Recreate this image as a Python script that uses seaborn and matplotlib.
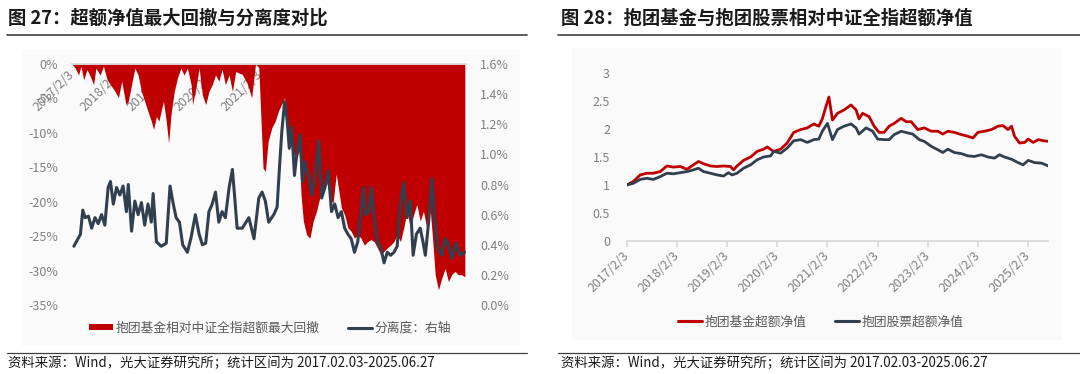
import numpy as np
import pandas as pd
import matplotlib
matplotlib.use('Agg')
import matplotlib.pyplot as plt
import seaborn as sns
from matplotlib.lines import Line2D
from matplotlib.patches import Patch, Rectangle

sns.set_theme(style='white')
plt.rcParams['font.family'] = ['Noto Sans CJK SC', 'DejaVu Sans']
plt.rcParams['axes.unicode_minus'] = False

RED = '#C00000'
NAVY = '#323F4F'
TICK = '#808080'
LEG = '#595959'

# ---------------- data (time in decimal years) ----------------
# 图27 超额最大回撤 (%)
dd_t = [2017.09, 2017.16, 2017.23, 2017.28, 2017.34, 2017.41, 2017.48, 2017.55, 2017.60, 2017.69,
        2017.76, 2017.84, 2017.91, 2018.01, 2018.08, 2018.15, 2018.24, 2018.29, 2018.36, 2018.43,
        2018.50, 2018.57, 2018.64, 2018.71, 2018.78, 2018.83, 2018.89, 2018.94, 2018.99, 2019.04,
        2019.10, 2019.15, 2019.20, 2019.27, 2019.34, 2019.41, 2019.48, 2019.55, 2019.63, 2019.66,
        2019.73, 2019.80, 2019.87, 2019.94, 2020.01, 2020.08, 2020.15, 2020.22, 2020.29, 2020.36,
        2020.44, 2020.51, 2020.58, 2020.72, 2020.83, 2020.92, 2021.00, 2021.07, 2021.16, 2021.21,
        2021.27, 2021.35, 2021.42, 2021.49, 2021.56, 2021.62, 2021.67, 2021.74, 2021.81, 2021.88,
        2021.93, 2021.97, 2022.02, 2022.09, 2022.16, 2022.23, 2022.30, 2022.37, 2022.44, 2022.51,
        2022.58, 2022.65, 2022.72, 2022.79, 2022.83, 2022.90, 2022.97, 2023.04, 2023.11, 2023.18,
        2023.25, 2023.32, 2023.39, 2023.46, 2023.53, 2023.60, 2023.67, 2023.74, 2023.81, 2023.88,
        2023.95, 2024.02, 2024.09, 2024.16, 2024.23, 2024.30, 2024.37, 2024.44, 2024.51, 2024.58,
        2024.65, 2024.72, 2024.78, 2024.83, 2024.90, 2024.97, 2025.04, 2025.11, 2025.18, 2025.25,
        2025.32, 2025.39, 2025.46]
dd_val = [0.0, -0.6, -1.6, -0.3, -2.3, -0.8, -1.8, -3.0, -0.6, -1.6,
          -0.3, -2.3, -3.0, -4.0, -4.9, -2.5, -5.9, -5.4, -3.0, -0.6,
          -1.6, -4.0, -5.4, -6.9, -8.3, -9.5, -7.6, -8.3, -6.9, -5.4,
          -8.3, -11.5, -7.4, -4.0, -2.0, -0.6, -1.6, -0.6, -3.0, -5.9,
          -3.5, -0.6, -4.5, -5.9, -4.0, -3.0, -1.6, -2.5, -0.8, -3.0,
          -1.6, -4.0, -1.1, -1.5, -2.9, -4.9, 0.0, -0.5, -15.1, -15.6,
          -11.2, -9.2, -8.3, -6.8, -5.8, -4.9, -9.7, -10.7, -13.1, -13.6,
          -12.6, -19.0, -22.8, -24.8, -25.3, -22.8, -21.4, -19.4, -18.0, -17.0,
          -19.0, -20.4, -16.0, -19.0, -20.9, -21.9, -23.8, -24.3, -25.3, -24.8,
          -25.3, -26.3, -25.8, -25.5, -25.8, -26.7, -27.7, -27.2, -26.7, -26.3,
          -25.8, -24.8, -25.8, -23.8, -21.4, -23.8, -21.9, -20.4, -22.8, -21.4,
          -23.8, -20.9, -25.8, -30.6, -32.8, -31.1, -29.7, -31.6, -30.6, -30.1,
          -30.6, -30.6, -30.9]

# 图27 分离度 (%, 右轴)
sep_t = [2017.13, 2017.20, 2017.27, 2017.32, 2017.37, 2017.44, 2017.51, 2017.58, 2017.65, 2017.72,
         2017.79, 2017.86, 2017.91, 2017.97, 2018.04, 2018.11, 2018.18, 2018.25, 2018.29, 2018.36,
         2018.43, 2018.50, 2018.57, 2018.64, 2018.71, 2018.78, 2018.82, 2018.89, 2018.99, 2019.10,
         2019.18, 2019.25, 2019.31, 2019.38, 2019.45, 2019.55, 2019.63, 2019.72, 2019.80, 2019.87,
         2019.94, 2020.01, 2020.08, 2020.15, 2020.22, 2020.29, 2020.36, 2020.44, 2020.51, 2020.56,
         2020.61, 2020.72, 2020.86, 2020.97, 2021.07, 2021.14, 2021.21, 2021.28, 2021.39, 2021.46,
         2021.51, 2021.56, 2021.62, 2021.67, 2021.72, 2021.77, 2021.83, 2021.88, 2021.95, 2022.00,
         2022.05, 2022.13, 2022.20, 2022.27, 2022.35, 2022.41, 2022.48, 2022.55, 2022.62, 2022.69,
         2022.76, 2022.83, 2022.90, 2022.97, 2023.04, 2023.11, 2023.18, 2023.25, 2023.30, 2023.35,
         2023.42, 2023.47, 2023.53, 2023.60, 2023.67, 2023.74, 2023.81, 2023.88, 2023.95, 2024.02,
         2024.09, 2024.16, 2024.23, 2024.30, 2024.36, 2024.43, 2024.51, 2024.57, 2024.62, 2024.69,
         2024.76, 2024.81, 2024.88, 2024.97, 2025.04, 2025.11, 2025.18, 2025.27, 2025.35, 2025.46]
sep_val = [0.39, 0.43, 0.47, 0.63, 0.58, 0.59, 0.51, 0.58, 0.54, 0.60,
           0.53, 0.78, 0.82, 0.67, 0.78, 0.73, 0.79, 0.62, 0.80, 0.49,
           0.69, 0.60, 0.68, 0.53, 0.67, 0.55, 0.74, 0.42, 0.39, 0.41,
           0.79, 0.67, 0.58, 0.55, 0.40, 0.35, 0.45, 0.60, 0.47, 0.40,
           0.41, 0.62, 0.67, 0.75, 0.55, 0.62, 0.58, 0.78, 0.90, 0.71,
           0.51, 0.51, 0.58, 0.44, 0.71, 0.75, 0.69, 0.55, 0.60, 0.65,
           0.91, 1.15, 1.35, 1.24, 1.04, 1.18, 0.86, 1.00, 1.13, 0.82,
           0.95, 0.86, 0.73, 0.86, 1.09, 0.71, 0.78, 0.89, 0.62, 0.67,
           0.58, 0.62, 0.51, 0.47, 0.44, 0.35, 0.42, 0.62, 0.78, 0.60,
           0.62, 0.78, 0.58, 0.42, 0.38, 0.28, 0.35, 0.33, 0.35, 0.39,
           0.67, 0.81, 0.58, 0.69, 0.33, 0.47, 0.51, 0.42, 0.33, 0.55,
           0.84, 0.62, 0.38, 0.33, 0.44, 0.40, 0.31, 0.41, 0.33, 0.35]

# 图28 抱团基金超额净值
fund_t = [2017.09, 2017.22, 2017.36, 2017.49, 2017.62, 2017.76, 2017.89, 2018.02, 2018.16, 2018.29,
          2018.42, 2018.52, 2018.62, 2018.76, 2018.89, 2019.02, 2019.16, 2019.22, 2019.29, 2019.42,
          2019.56, 2019.69, 2019.82, 2019.89, 2020.02, 2020.16, 2020.29, 2020.42, 2020.56, 2020.69,
          2020.82, 2020.92, 2020.99, 2021.06, 2021.12, 2021.19, 2021.29, 2021.42, 2021.56, 2021.66,
          2021.72, 2021.79, 2021.92, 2022.02, 2022.12, 2022.22, 2022.32, 2022.42, 2022.56, 2022.66,
          2022.76, 2022.89, 2023.02, 2023.16, 2023.29, 2023.39, 2023.49, 2023.62, 2023.76, 2023.89,
          2023.99, 2024.09, 2024.22, 2024.36, 2024.49, 2024.59, 2024.69, 2024.76, 2024.82, 2024.92,
          2025.02, 2025.09, 2025.19, 2025.29, 2025.39, 2025.49]
fund_nav = [1.00, 1.06, 1.18, 1.21, 1.21, 1.24, 1.34, 1.32, 1.33, 1.28,
            1.36, 1.42, 1.38, 1.34, 1.33, 1.34, 1.33, 1.27, 1.34, 1.44,
            1.50, 1.60, 1.64, 1.68, 1.60, 1.64, 1.75, 1.94, 1.99, 2.02,
            2.09, 2.05, 2.18, 2.40, 2.57, 2.16, 2.28, 2.34, 2.43, 2.34,
            2.18, 2.28, 2.22, 2.05, 1.94, 1.94, 2.05, 2.10, 2.19, 2.13,
            2.13, 1.99, 2.02, 1.96, 1.96, 1.91, 1.96, 1.94, 1.90, 1.87,
            1.84, 1.94, 1.96, 1.99, 2.05, 2.06, 1.99, 2.05, 1.87, 1.75,
            1.76, 1.82, 1.76, 1.81, 1.79, 1.78]

# 图28 抱团股票超额净值
stock_t = [2017.09, 2017.22, 2017.36, 2017.49, 2017.62, 2017.76, 2017.89, 2018.02, 2018.16, 2018.29,
           2018.42, 2018.52, 2018.62, 2018.76, 2018.89, 2019.02, 2019.12, 2019.19, 2019.29, 2019.42,
           2019.56, 2019.69, 2019.82, 2019.96, 2020.02, 2020.16, 2020.29, 2020.42, 2020.56, 2020.69,
           2020.82, 2020.92, 2020.99, 2021.09, 2021.19, 2021.29, 2021.42, 2021.56, 2021.66, 2021.72,
           2021.86, 2021.99, 2022.09, 2022.22, 2022.32, 2022.42, 2022.56, 2022.69, 2022.79, 2022.92,
           2023.02, 2023.16, 2023.29, 2023.39, 2023.49, 2023.62, 2023.76, 2023.89, 2024.02, 2024.16,
           2024.29, 2024.42, 2024.52, 2024.62, 2024.76, 2024.89, 2024.99, 2025.09, 2025.22, 2025.36,
           2025.49]
stock_nav = [1.00, 1.03, 1.10, 1.12, 1.10, 1.15, 1.21, 1.20, 1.22, 1.24,
             1.27, 1.30, 1.24, 1.21, 1.18, 1.16, 1.22, 1.18, 1.21, 1.30,
             1.36, 1.45, 1.50, 1.52, 1.60, 1.57, 1.66, 1.79, 1.81, 1.76,
             1.81, 1.82, 1.96, 2.10, 1.81, 1.99, 2.05, 2.09, 2.02, 1.91,
             2.02, 1.96, 1.82, 1.81, 1.81, 1.90, 1.96, 1.93, 1.91, 1.81,
             1.78, 1.69, 1.63, 1.58, 1.64, 1.58, 1.56, 1.52, 1.51, 1.54,
             1.50, 1.48, 1.54, 1.50, 1.46, 1.40, 1.36, 1.44, 1.40, 1.39,
             1.34]

tick_years = [2017, 2018, 2019, 2020, 2021, 2022, 2023, 2024, 2025]
tick_labels = [f'{y}/2/3' for y in tick_years]
left_yticks = [0, -5, -10, -15, -20, -25, -30, -35]
right_yticks = [0.0, 0.2, 0.4, 0.6, 0.8, 1.0, 1.2, 1.4, 1.6]
nav_yticks = [0, 0.5, 1, 1.5, 2, 2.5, 3]


def to_dates(yrs):
    yrs = np.asarray(yrs, dtype=float)
    base = pd.to_datetime(np.floor(yrs).astype(int).astype(str) + '-01-01')
    return base + pd.to_timedelta((yrs % 1) * 365.25, unit='D')


tick_dates = pd.to_datetime([f'{y}-02-03' for y in tick_years])
start, end = pd.Timestamp('2017-02-03'), pd.Timestamp('2025-06-27')

W, H = 1080, 374
fig = plt.figure(figsize=(W / 100, H / 100), dpi=100)


def fx(px):
    return px / W


def fy(py):
    return 1 - py / H


# light chart-area backgrounds
for x0, y0, x1, y1 in [(22, 50, 520, 346), (572, 48, 1062, 340)]:
    fig.add_artist(Rectangle((fx(x0), fy(y1)), fx(x1 - x0), fy(y0) - fy(y1),
                             transform=fig.transFigure, facecolor='#FAFAFA',
                             edgecolor='none', zorder=0))

# titles, rules, sources
fig.text(fx(8), fy(18), '图 27：超额净值最大回撤与分离度对比', fontsize=13.2,
         fontweight='bold', color='#1a1a1a', va='center', ha='left')
fig.text(fx(561), fy(18), '图 28：抱团基金与抱团股票相对中证全指超额净值', fontsize=13.2,
         fontweight='bold', color='#1a1a1a', va='center', ha='left')
for x0, x1 in [(7, 527), (558, 1080)]:
    fig.add_artist(Line2D([fx(x0), fx(x1)], [fy(35), fy(35)], transform=fig.transFigure,
                          color='#404040', lw=1.2))
    fig.add_artist(Line2D([fx(x0), fx(x1)], [fy(353), fy(353)], transform=fig.transFigure,
                          color='#404040', lw=0.9))
src = '资料来源：Wind，光大证券研究所；统计区间为 2017.02.03-2025.06.27'
fig.text(fx(8), fy(363), src, fontsize=9.6, color='#1a1a1a', va='center', ha='left')
fig.text(fx(561), fy(363), src, fontsize=9.6, color='#1a1a1a', va='center', ha='left')

# ---------------- 图27 ----------------
ax1 = fig.add_axes([fx(72), fy(305), fx(466 - 72), fy(64) - fy(305)])
ax1.patch.set_alpha(0)
dd_dates = to_dates(dd_t)
ax1.fill_between(dd_dates, dd_val, 0, color=RED, lw=0, zorder=1)
ax1.set_ylim(-35, 0)
ax1.set_xlim(start, end)
ax1.set_yticks(left_yticks)
ax1.set_yticklabels([f'{v}%' for v in left_yticks])
ax1.spines['bottom'].set_position(('data', 0))
for s in ['top', 'left', 'right']:
    ax1.spines[s].set_visible(False)
ax1.spines['bottom'].set_color('#D9D9D9')
ax1.set_xticks(tick_dates)
ax1.set_xticklabels(tick_labels, rotation=45, ha='right', va='center',
                    rotation_mode='anchor')
ax1.tick_params(axis='x', colors=TICK, labelsize=9, length=3, pad=3, color='#D9D9D9')
ax1.tick_params(axis='y', colors=TICK, labelsize=9, length=0, pad=10)
ax1.grid(False)

ax2 = ax1.twinx()
sns.lineplot(x=to_dates(sep_t), y=sep_val, ax=ax2, color=NAVY, lw=2.2, legend=False)
ax2.set_ylim(0, 1.6)
ax2.set_xlim(start, end)
ax2.set_yticks(right_yticks)
ax2.set_yticklabels([f'{v:.1f}%' for v in right_yticks])
ax2.tick_params(axis='y', colors=TICK, labelsize=9, length=0, pad=10)
for s in ax2.spines.values():
    s.set_visible(False)
ax2.set_xlabel('')
ax2.set_ylabel('')
ax2.grid(False)

h1 = [Patch(facecolor=RED, edgecolor='none'), Line2D([], [], color=NAVY, lw=2.2)]
fig.legend(h1, ['抱团基金相对中证全指超额最大回撤', '分离度：右轴'], loc='center',
           bbox_to_anchor=(fx(270), fy(328)), ncol=2, frameon=False, fontsize=9.2,
           labelcolor=LEG, handlelength=1.9, handleheight=0.45, handletextpad=0.2,
           columnspacing=2.2)

# ---------------- 图28 ----------------
ax3 = fig.add_axes([fx(626.7), fy(241), fx(1048 - 626.7), fy(73) - fy(241)])
ax3.patch.set_alpha(0)
sns.lineplot(x=to_dates(fund_t), y=fund_nav, ax=ax3, color=RED, lw=2.0, legend=False)
sns.lineplot(x=to_dates(stock_t), y=stock_nav, ax=ax3, color=NAVY, lw=2.0, legend=False)
ax3.set_ylim(0, 3)
ax3.set_xlim(start, end)
ax3.set_yticks(nav_yticks)
ax3.set_yticklabels(['0', '0.5', '1', '1.5', '2', '2.5', '3'])
ax3.set_xticks(tick_dates)
ax3.set_xticklabels(tick_labels, rotation=45, ha='right', va='center',
                    rotation_mode='anchor')
for s in ['top', 'left', 'right']:
    ax3.spines[s].set_visible(False)
ax3.spines['bottom'].set_color('#D9D9D9')
ax3.tick_params(axis='x', colors=TICK, labelsize=9, length=4, pad=5, color='#D9D9D9',
                bottom=True)
ax3.tick_params(axis='y', colors=TICK, labelsize=9, length=0, pad=12)
ax3.set_xlabel('')
ax3.set_ylabel('')
ax3.grid(False)

h2 = [Line2D([], [], color=RED, lw=2.2), Line2D([], [], color=NAVY, lw=2.2)]
fig.legend(h2, ['抱团基金超额净值', '抱团股票超额净值'], loc='center',
           bbox_to_anchor=(fx(821), fy(322)), ncol=2, frameon=False, fontsize=9.2,
           labelcolor=LEG, handlelength=1.9, handletextpad=0.2, columnspacing=2.2)

fig.savefig('out.png', dpi=100)
